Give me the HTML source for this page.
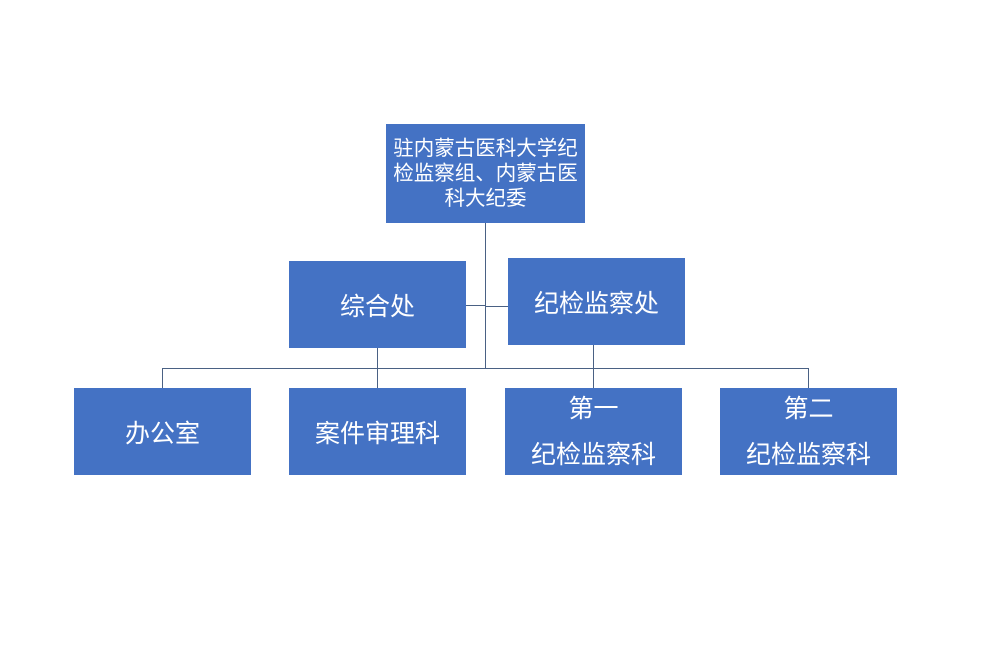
<!DOCTYPE html>
<html><head><meta charset="utf-8"><style>
body{margin:0;width:989px;height:646px;background:#fff;position:relative;overflow:hidden;font-family:"Liberation Sans","Noto Sans CJK SC",sans-serif}
.b{position:absolute;background:#4472c4;color:#fff;display:flex;align-items:center;justify-content:center;text-align:center}
.l{position:absolute;background:#4a6184}
</style></head><body>
<div class="l" style="left:485px;top:223px;width:1px;height:146px"></div>
<div class="l" style="left:466px;top:305px;width:19px;height:1px"></div>
<div class="l" style="left:485px;top:306px;width:23px;height:1px"></div>
<div class="l" style="left:162px;top:368px;width:647px;height:1px"></div>
<div class="l" style="left:162px;top:368px;width:1px;height:20px"></div>
<div class="l" style="left:377px;top:348px;width:1px;height:40px"></div>
<div class="l" style="left:593px;top:345px;width:1px;height:43px"></div>
<div class="l" style="left:808px;top:368px;width:1px;height:20px"></div>
<div class="b" style="left:386px;top:124px;width:199px;height:99px;font-size:20.5px;line-height:25px">驻内蒙古医科大学纪<br>检监察组、内蒙古医<br>科大纪委</div>
<div class="b" style="left:289px;top:261px;width:177px;height:87px;font-size:25px">综合处</div>
<div class="b" style="left:508px;top:258px;width:177px;height:87px;font-size:25px">纪检监察处</div>
<div class="b" style="left:74px;top:388px;width:177px;height:87px;font-size:25px">办公室</div>
<div class="b" style="left:289px;top:388px;width:177px;height:87px;font-size:25px">案件审理科</div>
<div class="b" style="left:505px;top:388px;width:177px;height:87px;font-size:25px;line-height:46px">第一<br>纪检监察科</div>
<div class="b" style="left:720px;top:388px;width:177px;height:87px;font-size:25px;line-height:46px">第二<br>纪检监察科</div>
</body></html>
